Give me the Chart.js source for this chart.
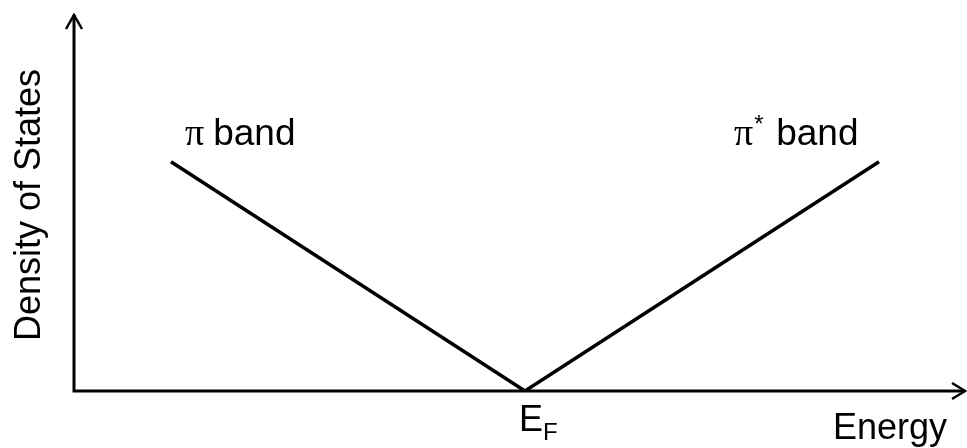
<!DOCTYPE html>
<html>
<head>
<meta charset="utf-8">
<script src="https://cdn.jsdelivr.net/npm/chart.js@4"></script>
<style>
  html,body{margin:0;padding:0;background:#fff;}
  #wrap{width:967px;height:448px;}
</style>
</head>
<body>
<div id="wrap"><canvas id="dos"></canvas></div>
<script>
/* ---- data: graphene-like linear density of states around E_F ---- */
const energy = [-1, 0, 1];
const density = [1, 0, 1];
const bandLabels = ['\u03c0', '\u03c0*'];
const xRange = [-1.274, 1.243];
const yRange = [0, 1.64];

const SANS = '"Liberation Sans", Arial, sans-serif';
const SERIF = '"Liberation Serif", "Times New Roman", serif';

// axes with arrow heads + all the annotation text
const sketchPlugin = {
  id: 'sketch',
  afterDatasetsDraw(chart){
    const {ctx, scales:{x, y}} = chart;
    const x0 = x.getPixelForValue(xRange[0]);
    const x1 = x.getPixelForValue(xRange[1]);
    const y0 = y.getPixelForValue(0);
    const yTop = y.getPixelForValue(yRange[1]);
    ctx.save();
    ctx.strokeStyle = '#000';
    ctx.lineWidth = 3;
    ctx.lineCap = 'butt';
    ctx.beginPath();
    ctx.moveTo(x0, yTop); ctx.lineTo(x0, y0); ctx.lineTo(x1, y0);
    ctx.stroke();
    // arrow heads
    ctx.lineWidth = 2.5;
    ctx.beginPath();
    ctx.moveTo(x0-8, yTop+14); ctx.lineTo(x0, yTop); ctx.lineTo(x0+8, yTop+14);
    ctx.moveTo(x1-13, y0-8); ctx.lineTo(x1, y0); ctx.lineTo(x1-13, y0+8);
    ctx.stroke();

    ctx.fillStyle = '#000';
    ctx.textBaseline = 'alphabetic';
    const bandY = y.getPixelForValue(density[0]) - 17;
    // π band (left)
    let px = x.getPixelForValue(energy[0]) + 14;
    ctx.font = '38px ' + SERIF;
    ctx.fillText(bandLabels[0], px, bandY);
    px += ctx.measureText(bandLabels[0]).width + 9;
    ctx.font = '37px ' + SANS;
    ctx.fillText('band', px, bandY);
    // π* band (right)
    px = x.getPixelForValue(energy[2]) - 145;
    ctx.font = '38px ' + SERIF;
    ctx.fillText('\u03c0', px, bandY);
    px += ctx.measureText('\u03c0').width;
    ctx.font = '24px ' + SANS;
    ctx.fillText('*', px + 1, bandY - 13);
    px += 23;
    ctx.font = '37px ' + SANS;
    ctx.fillText('band', px, bandY);
    // E_F under the vertex
    const ex = x.getPixelForValue(energy[1]) - 6;
    ctx.font = '36px ' + SANS;
    ctx.fillText('E', ex, y0 + 40);
    const ew = ctx.measureText('E').width;
    ctx.font = '24px ' + SANS;
    ctx.fillText('F', ex + ew, y0 + 49);
    // axis titles
    ctx.font = '36px ' + SANS;
    ctx.textAlign = 'right';
    ctx.fillText('Energy', x1 - 18, y0 + 48);
    ctx.translate(40, (yTop + y0) / 2 + 2);
    ctx.rotate(-Math.PI / 2);
    ctx.textAlign = 'center';
    ctx.fillText('Density of States', 0, 0);
    ctx.restore();
  }
};

new Chart(document.getElementById('dos'), {
  type: 'line',
  data: {
    datasets: [{
      data: energy.map((e, i) => ({x: e, y: density[i]})),
      borderColor: '#000',
      borderWidth: 3.5,
      pointRadius: 0,
      tension: 0,
      fill: false
    }]
  },
  options: {
    responsive: true,
    maintainAspectRatio: false,
    animation: false,
    layout: { padding: {left: 74, right: 2, top: 15, bottom: 57} },
    plugins: { legend: {display: false}, tooltip: {enabled: false} },
    scales: {
      x: { type: 'linear', min: xRange[0], max: xRange[1], display: false },
      y: { type: 'linear', min: yRange[0], max: yRange[1], display: false }
    }
  },
  plugins: [sketchPlugin]
});
</script>
</body>
</html>
